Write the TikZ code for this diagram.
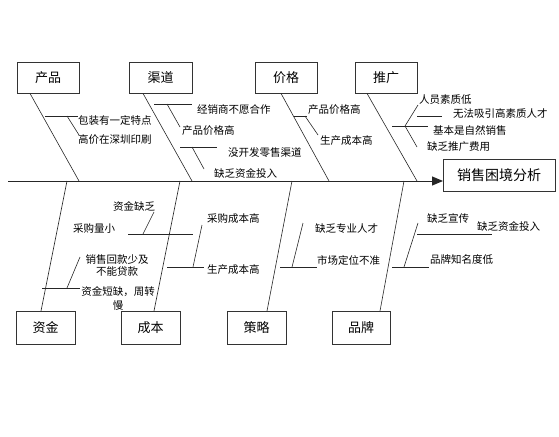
\documentclass[tikz,border=0pt]{standalone}
\usepackage{fontspec}
\newfontfamily\cjk{Noto Sans CJK SC}
\usetikzlibrary{positioning,arrows.meta}

\begin{document}
\begin{tikzpicture}[x=1pt,y=-1pt,
    cause/.style={draw=black!80, thin, inner sep=0pt, minimum height=31pt,
        minimum width=62pt, anchor=north west, font=\cjk\fontsize{13}{13}\selectfont},
    note/.style={inner sep=0pt, anchor=west, font=\cjk\fontsize{10.5}{12}\selectfont},
    bone/.style={black!85, line width=0.6pt}]
    \useasboundingbox (0,0) rectangle (559,436);

    % Cause boxes, top row and bottom row
    \node(chanpin)[cause] at (17,62) {产品};
    \node(qudao)[cause, minimum width=63pt] at (129,62) {渠道};
    \node(jiage)[cause] at (255,62) {价格};
    \node(tuiguang)[cause] at (355,62) {推广};
    \node(zijin)[cause, minimum width=59pt, minimum height=33pt] at (16,311) {资金};
    \node(chengben)[cause, minimum width=59pt, minimum height=33pt] at (121,311) {成本};
    \node(celue)[cause, minimum width=59pt, minimum height=33pt] at (227,311) {策略};
    \node(pinpai)[cause, minimum width=58pt, minimum height=33pt] at (332,311) {品牌};

    % Effect box and spine
    \node(effect)[cause, minimum width=112pt, minimum height=32pt,
        font=\cjk\fontsize{14}{14}\selectfont] at (443,159) {销售困境分析};
    \coordinate (tail) at (8,181);
    \draw[black!85, line width=1pt, -{Triangle[length=11pt,width=9pt]}]
        (tail) -- (tail -| effect.west);

    % Main bones meeting the spine
    \coordinate (s-chanpin) at (79,181);
    \coordinate (s-qudao) at (192,181);
    \coordinate (s-jiage) at (329,181);
    \coordinate (s-tuiguang) at (417,181);
    \coordinate (s-zijin) at (67,181);
    \coordinate (s-chengben) at (180,181);
    \coordinate (s-celue) at (292,181);
    \coordinate (s-pinpai) at (404,181);
    \draw[bone] ([xshift=13pt]chanpin.south west) -- (s-chanpin);
    \draw[bone] ([xshift=14pt]qudao.south west) -- (s-qudao);
    \draw[bone] ([xshift=26pt]jiage.south west) -- (s-jiage);
    \draw[bone] ([xshift=12pt]tuiguang.south west) -- (s-tuiguang);
    \draw[bone] ([xshift=25pt]zijin.north west) -- (s-zijin);
    \draw[bone] ([xshift=33pt]chengben.north west) -- (s-chengben);
    \draw[bone] ([xshift=40pt]celue.north west) -- (s-celue);
    \draw[bone] ([xshift=48pt]pinpai.north west) -- (s-pinpai);

    % Causes of 产品
    \node(cp-1)[note] at (78,120) {包装有一定特点};
    \node(cp-2)[note] at (78,140) {高价在深圳印刷};
    \draw[bone] (45,116) -- (78,116);
    \draw[bone] (67,116) -- (79,135);

    % Causes of 渠道
    \node(qd-1)[note] at (197,110) {经销商不愿合作};
    \node(qd-2)[note] at (182,131) {产品价格高};
    \node(qd-3)[note] at (228,153) {没开发零售渠道};
    \node(qd-4)[note] at (214,173) {缺乏资金投入};
    \draw[bone] (154,104) -- (192,104);
    \draw[bone] (167,104) -- (180,127);
    \draw[bone] (180,147) -- (217,147);
    \draw[bone] (192,147) -- (204,169);

    % Causes of 价格
    \node(jg-1)[note] at (308,110) {产品价格高};
    \node(jg-2)[note] at (320,141) {生产成本高};
    \draw[bone] (294,116) -- (307,116);
    \draw[bone] (305,116) -- (318,135);

    % Causes of 推广
    \node(tg-1)[note] at (419,100) {人员素质低};
    \node(tg-2)[note] at (453,113) {无法吸引高素质人才};
    \node(tg-3)[note] at (433,130) {基本是自然销售};
    \node(tg-4)[note] at (427,147) {缺乏推广费用};
    \draw[bone] (392,126) -- (428,126);
    \draw[bone] (405,126) -- (418,105);
    \draw[bone] (417,116) -- (442,116);
    \draw[bone] (405,126) -- (417,147);

    % Causes of 资金
    \node(zj-1)[note] at (113,206) {资金缺乏};
    \node(zj-2)[note] at (73,229) {采购量小};
    \node(zj-3)[note, anchor=center, align=center] at (117,265.5) {销售回款少及\\不能贷款};
    \node(zj-4)[note, anchor=center, align=center,
        font=\cjk\fontsize{10.5}{14}\selectfont] at (118,298) {资金短缺，周转\\慢};
    \draw[bone] (128,234) -- (193,234);
    \draw[bone] (143,234) -- (154,212);
    \draw[bone] (42,288) -- (80,288);
    \draw[bone] (67,288) -- (80,257);

    % Causes of 成本
    \node(cb-1)[note] at (207,219) {采购成本高};
    \node(cb-2)[note] at (207,270) {生产成本高};
    \draw[bone] (167,267) -- (204,267);
    \draw[bone] (193,267) -- (202,225);

    % Causes of 策略
    \node(cl-1)[note] at (315,229) {缺乏专业人才};
    \node(cl-2)[note] at (317,260) {市场定位不准};
    \draw[bone] (280,267) -- (317,267);
    \draw[bone] (292,267) -- (303,223);

    % Causes of 品牌
    \node(pp-1)[note] at (427,218) {缺乏宣传};
    \node(pp-2)[note] at (477,226) {缺乏资金投入};
    \node(pp-3)[note] at (430,260) {品牌知名度低};
    \draw[bone] (417,234) -- (492,234);
    \draw[bone] (392,267) -- (429,267);
    \draw[bone] (404,267) -- (418,223);

\end{tikzpicture}
\end{document}
